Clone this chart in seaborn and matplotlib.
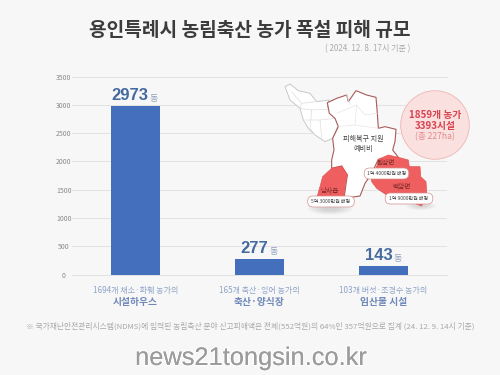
import matplotlib
matplotlib.use("Agg")
import matplotlib.pyplot as plt
import matplotlib.patheffects as pe
from matplotlib.patches import Circle, FancyBboxPatch, Polygon, Ellipse
import pandas as pd
import seaborn as sns

categories = ["시설하우스", "축산·양식장", "임산물 시설"]
values = [2973, 277, 143]
sublabels = ["1694개 채소·화훼 농가의", "165개 축산·잉어 농가의", "103개 버섯·조경수 농가의"]
yticks = [0, 500, 1000, 1500, 2000, 2500, 3000, 3500]

title = "용인특례시 농림축산 농가 폭설 피해 규모"
subtitle = "( 2024. 12. 8. 17시 기준 )"
footnote = "※ 국가재난안전관리시스템(NDMS)에 입력된 농림축산 분야 신고피해액은 전체(552억원)의 64%인 357억원으로 집계 (24. 12. 9. 14시 기준)"
watermark = "news21tongsin.co.kr"

# map outlines (x, y in 3x crop of region starting at 270,70)
west_map = [(45, 50), (60, 42), (85, 62), (120, 70), (140, 95), (178, 90), (172, 110), (195, 140), (205, 165),
            (188, 205), (165, 215), (135, 195), (115, 175), (100, 150), (90, 115), (60, 90)]
east_map = [(172, 98), (200, 85), (230, 75), (235, 95), (258, 62), (290, 75), (318, 82), (322, 130), (325, 175),
            (345, 170), (378, 178), (375, 215), (368, 240), (385, 262), (325, 268), (305, 310), (285, 340),
            (270, 378), (222, 385), (232, 315), (215, 288), (185, 295), (185, 270), (192, 240), (188, 205),
            (205, 170), (195, 145), (178, 130)]
namsa = [(215, 288), (232, 315), (225, 345), (222, 385), (210, 410), (150, 405), (140, 385), (150, 350),
         (158, 320), (185, 295)]
wonsam_baegam = [(325, 268), (355, 255), (385, 262), (415, 270), (418, 290), (450, 290), (452, 320), (468, 335),
                 (470, 370), (455, 408), (420, 395), (385, 395), (350, 375), (320, 355), (305, 335), (305, 310),
                 (320, 290)]
west_inner = [[(65, 65), (95, 100), (140, 95)], [(90, 115), (125, 120), (178, 118)], [(105, 150), (150, 150), (195, 145)],
              [(125, 120), (120, 175), (135, 195)], [(150, 150), (155, 205)], [(95, 100), (90, 115)]]
east_inner = [[(200, 130), (260, 105), (285, 135), (322, 130)], [(205, 170), (255, 165), (325, 175)],
              [(260, 105), (255, 165)], [(230, 75), (240, 105)]]

region_labels = [(385.7, 162.7, "원삼면"), (401.7, 187, "백암면"), (330, 190.7, "남사읍")]
pills = [(386.5, 173.5, 45, "1억 4000만원 배정"), (409, 198.5, 48, "1억 9000만원 배정"), (331, 201.5, 47, "5억 3000만원 배정")]

sns.set_theme(style="white")
plt.rcParams["font.family"] = ["Noto Sans CJK KR", "DejaVu Sans"]

bg = "#f7f7f7"
blue = "#446fbd"
grid = "#e2e2e2"
fig = plt.figure(figsize=(5, 3.75), dpi=100, facecolor=bg)
ax = fig.add_axes([72 / 500, 1 - 274.5 / 375, 375 / 500, 198 / 375], facecolor=bg)

df = pd.DataFrame({"category": categories, "value": values})
sns.barplot(data=df, x="category", y="value", color=blue, saturation=1, width=0.403, linewidth=0, ax=ax, zorder=3)
ax.set_xlim(-0.512, 2.512)
ax.set_ylim(0, 3500)
ax.set_yticks(yticks)
ax.set_xticks([])
ax.set_xlabel("")
ax.set_ylabel("")
ax.grid(axis="y", color=grid, lw=0.7)
ax.set_axisbelow(True)
sns.despine(ax=ax, left=True, bottom=True)
ax.spines["top"].set_visible(True)
ax.spines["top"].set_color(grid)
ax.spines["top"].set_linewidth(0.7)
ax.spines["bottom"].set_visible(True)
ax.spines["bottom"].set_color(grid)
ax.spines["bottom"].set_linewidth(0.7)
ax.tick_params(axis="y", length=0, labelsize=5, labelcolor="#8a8a8a", pad=6)
for lbl in ax.get_yticklabels():
    lbl.set_ha("center")

num_right = [13, 9, 9]
for i, v in enumerate(values):
    ax.annotate(str(v), (i, v), xytext=(num_right[i], 3), textcoords="offset pixels", ha="right", va="bottom",
                fontsize=12, fontweight="bold", color="#446a9f", family=["Liberation Sans"], zorder=5)
    ax.annotate("동", (i, v), xytext=(num_right[i] + 1, 3), textcoords="offset pixels", ha="left", va="bottom",
                fontsize=6.5, color="#8fa0bd", zorder=5)
    ax.annotate(sublabels[i], (i, 0), xytext=(0, -16), textcoords="offset pixels", ha="center", va="center",
                fontsize=5.8, color="#8ea3c8")
    ax.annotate(categories[i], (i, 0), xytext=(0, -28), textcoords="offset pixels", ha="center", va="center",
                fontsize=7, fontweight="bold", color="#6f88b8")

# overlay in image pixels for the map and texts
ov = fig.add_axes([0, 0, 1, 1], facecolor="none")
ov.set_xlim(0, 500)
ov.set_ylim(375, 0)
ov.axis("off")


def px(points):
    return [(270 + x / 3, 70 + y / 3) for x, y in points]


for k in range(5):
    ov.add_patch(Ellipse((330, 209), 44 - k * 7, 11 - k * 2, color="#888888", alpha=0.07, lw=0))
    ov.add_patch(Ellipse((421, 206), 30 - k * 5, 8 - k * 1.4, color="#888888", alpha=0.06, lw=0))
ov.add_patch(Polygon(px(west_map), fc="white", ec="#c8c8c8", lw=0.7, zorder=2))
for line in west_inner:
    ov.plot(*zip(*px(line)), color="#dddddd", lw=0.5, zorder=3)
ov.add_patch(Polygon(px(east_map), fc="white", ec="#a85a5a", lw=0.8, zorder=3))
for line in east_inner:
    ov.plot(*zip(*px(line)), color="#e6e6e6", lw=0.5, zorder=4)
ov.add_patch(Polygon(px(namsa), fc="#ef5f5f", ec="#e25555", lw=0.5, zorder=4))
ov.add_patch(Polygon(px(wonsam_baegam), fc="#ef5f5f", ec="#e25555", lw=0.5, zorder=4))

ov.text(363.5, 139, "피해복구 지원", ha="center", va="center", fontsize=5.1, color="#444444", zorder=6)
ov.text(363, 148.7, "예비비", ha="center", va="center", fontsize=5.1, color="#444444", zorder=6)
for x, y, txt in region_labels:
    ov.text(x, y, txt, ha="center", va="center", fontsize=4.8, color="#7a2a2a", zorder=6)

for x, y, w, txt in pills:
    ov.add_patch(FancyBboxPatch((x - w / 2 + 5.5, y - 0.2), w - 11, 0.4, boxstyle="round,pad=5.3,rounding_size=5.3",
                                fc="white", ec="#d58f8f", lw=0.5, zorder=6))
    ov.text(x, y, txt, ha="center", va="center", fontsize=3.6, color="#444444", zorder=7)

ov.add_patch(Circle((435, 125), 34.3, fc="#fbe0e0", ec="#eeb5b5", lw=0.6, zorder=5))
ov.text(435, 115, "1859개 농가", ha="center", va="center", fontsize=7, fontweight="bold", color="#d8434f", zorder=6)
ov.text(435, 125.7, "3393시설", ha="center", va="center", fontsize=7, fontweight="bold", color="#d8434f", zorder=6)
ov.text(435, 136.7, "(총 227ha)", ha="center", va="center", fontsize=6.2, color="#e08a8a", zorder=6)

ov.text(250, 31, title, ha="center", va="center", fontsize=13.8, fontweight="black", color="#3c3c3c")
ov.text(410.5, 48.5, subtitle, ha="right", va="center", fontsize=5.8, color="#aaaaaa")
ov.text(250, 326, footnote, ha="center", va="center", fontsize=5.6, color="#a8a8a8")
ov.text(251, 358, watermark, ha="center", va="center", fontsize=18.3, color="#9c9c9c", zorder=8,
        family=["Liberation Sans"],
        path_effects=[pe.withStroke(linewidth=1.6, foreground="white"), pe.Normal()])

fig.savefig("out.png", dpi=100, facecolor=bg)
